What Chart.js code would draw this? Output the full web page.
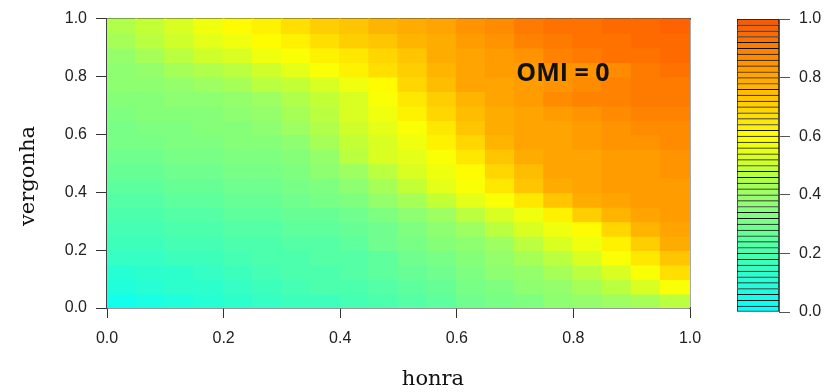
<!DOCTYPE html>
<html>
<head>
<meta charset="utf-8">
<script src="https://cdn.jsdelivr.net/npm/chart.js@4.4.1/dist/chart.umd.min.js"></script>
<style>
  html, body { margin: 0; padding: 0; background: #fff; }
  #wrap { position: relative; width: 825px; height: 392px; overflow: hidden; }
  #main { position: absolute; left: 0; top: 0; }
  #legend { position: absolute; left: 700px; top: 0; }
  .lab { position: absolute; font-family: "DejaVu Serif", serif; font-size: 21px; color: #111; white-space: nowrap; }
  #xtitle { left: 433px; top: 378px; transform: translate(-50%, -50%); }
  #ytitle { left: 27px; top: 176px; transform: translate(-50%, -50%) rotate(-90deg); }
</style>
</head>
<body>
<div id="wrap">
  <canvas id="main" width="825" height="392"></canvas>
  <canvas id="legend" width="125" height="392"></canvas>
  <div class="lab" id="xtitle">honra</div>
  <div class="lab" id="ytitle">vergonha</div>
</div>
<script>
// cell centres along honra, rows along vergonha (top row first)
const honra = [0.025, 0.075, 0.125, 0.175, 0.225, 0.275, 0.325, 0.375, 0.425, 0.475,
               0.525, 0.575, 0.625, 0.675, 0.725, 0.775, 0.825, 0.875, 0.925, 0.975];
const vergonhaLow  = [0.95, 0.90, 0.85, 0.80, 0.75, 0.70, 0.65, 0.60, 0.55, 0.50,
                      0.45, 0.40, 0.35, 0.30, 0.25, 0.20, 0.15, 0.10, 0.05, 0.00];
const vergonhaHigh = [1.00, 0.95, 0.90, 0.85, 0.80, 0.75, 0.70, 0.65, 0.60, 0.55,
                      0.50, 0.45, 0.40, 0.35, 0.30, 0.25, 0.20, 0.15, 0.10, 0.05];

// values, one row per band of vergonha
const row100 = [0.44,0.49,0.52,0.56,0.60,0.63,0.66,0.70,0.73,0.76,0.79,0.81,0.84,0.87,0.90,0.92,0.93,0.94,0.95,0.96];
const row095 = [0.42,0.46,0.50,0.54,0.57,0.60,0.63,0.66,0.70,0.73,0.76,0.79,0.82,0.85,0.88,0.90,0.92,0.93,0.94,0.95];
const row090 = [0.39,0.42,0.46,0.50,0.53,0.56,0.59,0.62,0.65,0.69,0.73,0.78,0.81,0.83,0.85,0.88,0.90,0.92,0.93,0.94];
const row085 = [0.37,0.39,0.42,0.45,0.47,0.50,0.54,0.58,0.62,0.66,0.71,0.76,0.80,0.82,0.83,0.84,0.85,0.87,0.90,0.92];
const row080 = [0.36,0.37,0.39,0.40,0.43,0.46,0.49,0.53,0.57,0.61,0.68,0.74,0.80,0.81,0.83,0.85,0.86,0.88,0.90,0.91];
const row075 = [0.35,0.35,0.36,0.37,0.39,0.41,0.45,0.49,0.53,0.58,0.64,0.70,0.77,0.80,0.83,0.86,0.88,0.89,0.90,0.91];
const row070 = [0.33,0.34,0.34,0.35,0.37,0.39,0.42,0.47,0.52,0.57,0.62,0.68,0.74,0.79,0.81,0.83,0.85,0.87,0.88,0.89];
const row065 = [0.31,0.32,0.33,0.34,0.35,0.37,0.40,0.44,0.50,0.55,0.59,0.65,0.72,0.79,0.80,0.81,0.83,0.85,0.86,0.87];
const row060 = [0.30,0.31,0.32,0.33,0.34,0.35,0.37,0.42,0.48,0.53,0.57,0.62,0.69,0.76,0.80,0.81,0.82,0.84,0.85,0.86];
const row055 = [0.28,0.29,0.30,0.31,0.32,0.33,0.35,0.39,0.46,0.52,0.55,0.59,0.64,0.72,0.79,0.80,0.81,0.82,0.83,0.85];
const row050 = [0.26,0.27,0.28,0.29,0.30,0.31,0.33,0.36,0.41,0.47,0.52,0.57,0.61,0.68,0.75,0.80,0.81,0.82,0.83,0.84];
const row045 = [0.24,0.25,0.26,0.27,0.28,0.29,0.31,0.33,0.37,0.42,0.48,0.54,0.59,0.64,0.72,0.79,0.81,0.82,0.83,0.83];
const row040 = [0.22,0.23,0.24,0.25,0.26,0.27,0.28,0.30,0.33,0.38,0.42,0.48,0.54,0.59,0.65,0.72,0.79,0.81,0.82,0.83];
const row035 = [0.20,0.21,0.22,0.23,0.24,0.25,0.26,0.27,0.29,0.33,0.37,0.41,0.47,0.53,0.57,0.62,0.70,0.77,0.81,0.82];
const row030 = [0.18,0.19,0.20,0.21,0.22,0.23,0.24,0.25,0.27,0.29,0.32,0.36,0.41,0.46,0.52,0.56,0.61,0.69,0.77,0.81];
const row025 = [0.16,0.17,0.18,0.19,0.20,0.21,0.22,0.23,0.25,0.28,0.30,0.34,0.37,0.41,0.46,0.52,0.57,0.63,0.71,0.78];
const row020 = [0.14,0.15,0.16,0.17,0.18,0.20,0.21,0.22,0.23,0.25,0.28,0.31,0.35,0.38,0.42,0.47,0.53,0.58,0.65,0.72];
const row015 = [0.11,0.12,0.13,0.15,0.16,0.18,0.20,0.21,0.22,0.24,0.26,0.29,0.32,0.36,0.39,0.43,0.47,0.52,0.58,0.66];
const row010 = [0.08,0.10,0.12,0.13,0.15,0.16,0.18,0.20,0.21,0.23,0.25,0.27,0.30,0.33,0.36,0.39,0.43,0.47,0.52,0.58];
const row005 = [0.05,0.07,0.09,0.11,0.13,0.14,0.16,0.17,0.19,0.21,0.23,0.25,0.28,0.30,0.33,0.36,0.38,0.41,0.43,0.47];
const zRows = [row100, row095, row090, row085, row080, row075, row070, row065, row060, row055,
               row050, row045, row040, row035, row030, row025, row020, row015, row010, row005];

const tickValues = [0, 0.2, 0.4, 0.6, 0.8, 1.0];
// colour key levels (50 bands)
const levels = [0.00,0.02,0.04,0.06,0.08,0.10,0.12,0.14,0.16,0.18,0.20,0.22,0.24,0.26,0.28,0.30,0.32,0.34,0.36,0.38,
                0.40,0.42,0.44,0.46,0.48,0.50,0.52,0.54,0.56,0.58,0.60,0.62,0.64,0.66,0.68,0.70,0.72,0.74,0.76,0.78,
                0.80,0.82,0.84,0.86,0.88,0.90,0.92,0.94,0.96,0.98];
const levelStep = 0.02;

// colour ramp cyan -> green -> yellow -> orange red
const ramp = [[0, '#00ffff'], [0.1, '#22ffd8'], [0.2, '#48ffb0'], [0.3, '#74ff8a'], [0.4, '#98ff66'],
              [0.5, '#c8ff30'], [0.6, '#ffff00'], [0.7, '#ffd200'], [0.8, '#ffa800'], [0.9, '#ff7f00'], [1, '#ff5500']];
function hex(h) { return [1, 3, 5].map(i => parseInt(h.substr(i, 2), 16)); }
function rampColor(t) {
  for (let i = 1; i < ramp.length; i++) {
    if (t <= ramp[i][0]) {
      const a = hex(ramp[i - 1][1]), b = hex(ramp[i][1]);
      const f = (t - ramp[i - 1][0]) / (ramp[i][0] - ramp[i - 1][0]);
      return 'rgb(' + a.map((v, k) => Math.round(v + (b[k] - v) * f)).join(',') + ')';
    }
  }
  return ramp[ramp.length - 1][1];
}
function levelColor(z) {
  const i = Math.min(levels.length - 1, Math.floor(z / levelStep + 1e-9));
  return rampColor(levels[i] + levelStep / 2);
}

const tickFont = { family: 'Liberation Sans', size: 16 };
const tickColor = '#222';
const fmt = v => Number(v).toFixed(1);

const cells = zRows.map((row, r) => ({
  data: honra.map(x => ({ x: x, y: [vergonhaLow[r], vergonhaHigh[r]] })),
  backgroundColor: row.map(levelColor),
  borderWidth: 0,
  inflateAmount: 1,
  grouped: false,
  barPercentage: 1,
  categoryPercentage: 1
}));

const omiLabel = {
  id: 'omiLabel',
  afterDatasetsDraw(chart) {
    const { ctx, scales: { x, y } } = chart;
    ctx.save();
    ctx.font = 'bold 25px "Open Sans"';
    ctx.fillStyle = '#111';
    ctx.textAlign = 'center';
    ctx.textBaseline = 'middle';
    ctx.fillText('OMI = 0', x.getPixelForValue(0.782), y.getPixelForValue(0.81));
    ctx.restore();
  }
};

new Chart(document.getElementById('main'), {
  type: 'bar',
  data: { datasets: cells },
  plugins: [omiLabel],
  options: {
    responsive: false,
    animation: false,
    layout: { padding: { left: 0, top: 15, right: 135, bottom: 0 } },
    plugins: { legend: { display: false }, tooltip: { enabled: false } },
    scales: {
      x: {
        type: 'linear', min: 0, max: 1, offset: false, position: 'bottom',
        afterBuildTicks: s => { s.ticks = tickValues.map(v => ({ value: v })); },
        ticks: { padding: 11, color: tickColor, font: tickFont, callback: fmt, maxRotation: 0 },
        grid: { offset: false, drawOnChartArea: false, drawTicks: true, tickLength: 10, color: '#333' },
        border: { display: true, color: '#333', width: 1.5 },
        afterFit: s => { s.height = 84; }
      },
      y: {
        type: 'linear', min: 0, max: 1, position: 'left',
        afterBuildTicks: s => { s.ticks = tickValues.map(v => ({ value: v })); },
        ticks: { padding: 9, color: tickColor, font: tickFont, callback: fmt },
        grid: { drawOnChartArea: false, drawTicks: true, tickLength: 11, color: '#333' },
        border: { display: true, color: '#444', width: 1.5 },
        afterFit: s => { s.width = 107; }
      },
      x2: {
        type: 'linear', min: 0, max: 1, position: 'top',
        ticks: { display: false }, grid: { display: false },
        border: { display: true, color: '#444', width: 1.5 },
        afterFit: s => { s.height = 0; }
      },
      y2: {
        type: 'linear', min: 0, max: 1, position: 'right',
        ticks: { display: false }, grid: { display: false },
        border: { display: true, color: '#555', width: 1.5 },
        afterFit: s => { s.width = 0; }
      }
    }
  }
});

// colour key
const keyBands = levels.map((lv, i) => ({
  data: [[lv, lv + levelStep]],
  backgroundColor: rampColor(lv + levelStep / 2),
  borderColor: '#111',
  borderWidth: { top: 1, left: 1, right: 1, bottom: i === 0 ? 1 : 0 },
  borderSkipped: false,
  grouped: false,
  barPercentage: 1,
  categoryPercentage: 1
}));

new Chart(document.getElementById('legend'), {
  type: 'bar',
  data: { labels: [''], datasets: keyBands },
  options: {
    responsive: false,
    animation: false,
    layout: { padding: { left: 37, top: 19, right: 0, bottom: 80 } },
    plugins: { legend: { display: false }, tooltip: { enabled: false } },
    scales: {
      x: { display: false },
      y: {
        type: 'linear', min: 0, max: 1, position: 'right',
        afterBuildTicks: s => { s.ticks = tickValues.map(v => ({ value: v })); },
        ticks: { padding: 9, color: tickColor, font: tickFont, callback: fmt },
        grid: { drawOnChartArea: false, drawTicks: true, tickLength: 11, color: '#555' },
        border: { display: true, color: '#555', width: 1 },
        afterFit: s => { s.width = 46; }
      }
    }
  }
});
</script>
</body>
</html>
